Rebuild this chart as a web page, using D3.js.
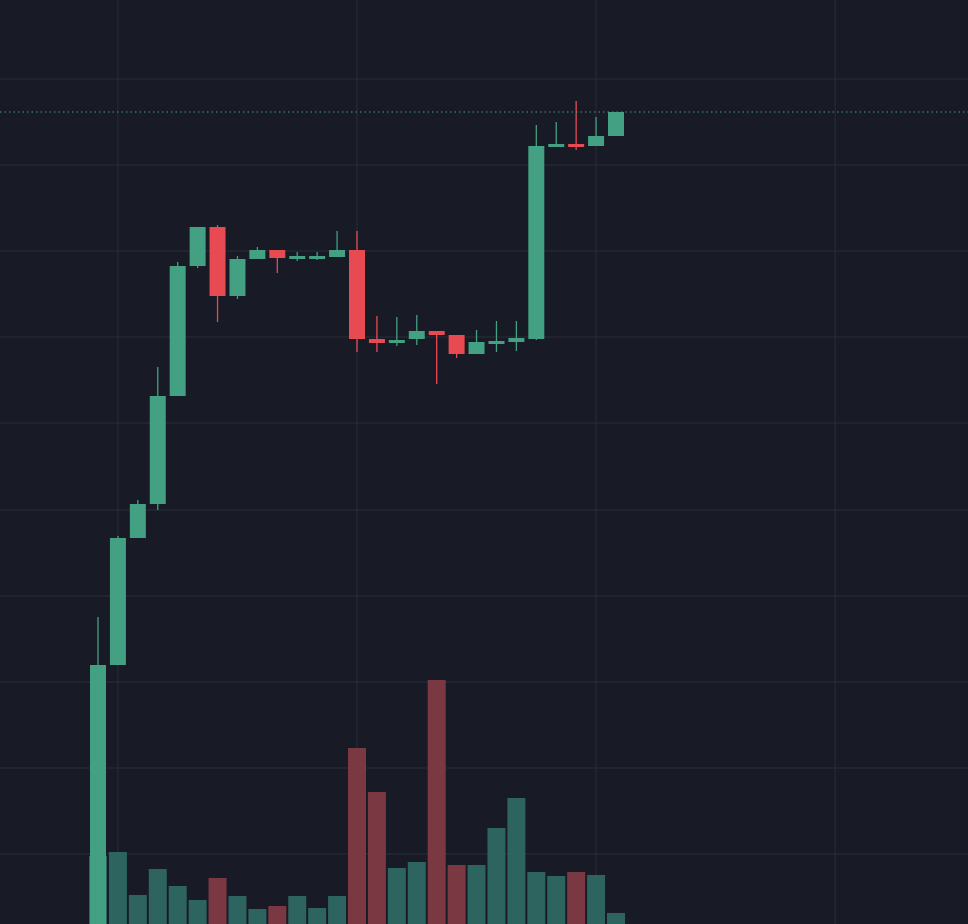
<!DOCTYPE html>
<html><head><meta charset="utf-8">
<script src="https://cdn.jsdelivr.net/npm/d3@7"></script>
<style>html,body{margin:0;padding:0;background:#181a25;overflow:hidden}</style>
</head><body>
<svg id="c" width="968" height="924"></svg>
<script>
const opens  = [0,259,386,420,528,658,697,628,665,674,667,668,667,674,585,581,585,593,589,570,582,582,585,778,780,778,788];
const highs  = [307,388,424,557,662,697,699,668,677,674,672,672,693,693,608,607,609,593,589,594,603,603,799,802,823,807,812];
const lows   = [0,259,386,414,528,656,602,625,665,651,663,664,667,572,572,578,579,540,566,570,572,573,584,778,774,778,788];
const closes = [259,386,420,528,658,697,628,665,674,666,668,668,674,585,581,584,593,589,570,582,583,586,778,780,778,788,812];
const volumes= [68,72,29,55,38,24,46,28,15,18,28,16,28,176,132,56,62,244,59,59,96,126,52,48,52,49,11];
const priceGrid = [70,156,242,328,414,501,587,673,759,845];
const timeGrid = [1,13,25,37];

const W=968,H=924;
const svg=d3.select("#c");
const x=d3.scaleLinear().domain([0,26]).range([98,616]);
const y=d3.scaleLinear().domain([0,924]).range([924,0]);
const vy=d3.scaleLinear().domain([0,924]).range([924,0]);
const green="#43a083", red="#e84a52";

svg.append("rect").attr("width",W).attr("height",H).attr("fill","#181a25");
svg.selectAll(".hg").data(priceGrid).join("line")
 .attr("x1",0).attr("x2",W).attr("y1",d=>y(d)).attr("y2",d=>y(d))
 .attr("stroke","#2a2d3a").attr("stroke-width",1);
svg.selectAll(".vg").data(timeGrid).join("line")
 .attr("y1",0).attr("y2",H).attr("x1",d=>x(d)).attr("x2",d=>x(d))
 .attr("stroke","#2a2d3a").attr("stroke-width",1);

const idx=d3.range(opens.length);
// volume
svg.selectAll(".vol").data(idx).join("rect")
 .attr("x",i=>x(i)-9).attr("width",18)
 .attr("y",i=>vy(volumes[i])).attr("height",i=>vy(0)-vy(volumes[i]))
 .attr("fill",i=>closes[i]>=opens[i]?"#2e6460":"#7a3843");
// wicks
svg.selectAll(".wick").data(idx).join("line")
 .attr("x1",i=>x(i)).attr("x2",i=>x(i))
 .attr("y1",i=>y(highs[i])).attr("y2",i=>y(lows[i]))
 .attr("stroke",i=>closes[i]>=opens[i]?green:red).attr("stroke-width",1.3);
// bodies
svg.selectAll(".body").data(idx).join("rect")
 .attr("x",i=>x(i)-8).attr("width",16)
 .attr("y",i=>y(Math.max(opens[i],closes[i])))
 .attr("height",i=>Math.max(3,Math.abs(y(opens[i])-y(closes[i]))))
 .attr("fill",i=>closes[i]>=opens[i]?green:red);
// last price line
const last=closes[closes.length-1];
svg.append("line").attr("x1",0).attr("x2",W).attr("y1",y(last)).attr("y2",y(last))
 .attr("stroke",green).attr("stroke-width",1).attr("stroke-dasharray","1.5,3");
</script>
</body></html>
